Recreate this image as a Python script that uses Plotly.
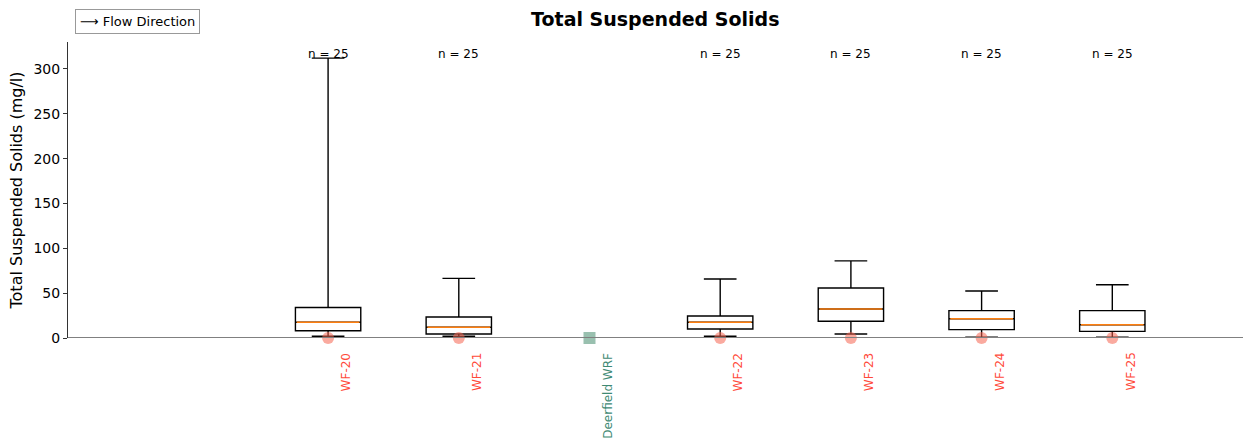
import plotly.graph_objects as go

# Sites in downstream order (numeric slot on the x axis)
sites = ["WF-20", "WF-21", "Deerfield WRF", "WF-22", "WF-23", "WF-24", "WF-25"]
site_pos = [2, 3, 4, 5, 6, 7, 8]
site_kind = ["stream", "stream", "plant", "stream", "stream", "stream", "stream"]

# Box statistics (mg/l) for the sampled stream sites
box_sites = ["WF-20", "WF-21", "WF-22", "WF-23", "WF-24", "WF-25"]
box_pos = [2, 3, 5, 6, 7, 8]
lower_fence = [2.0, 2.0, 2.0, 4.5, 1.0, 1.0]
q1 = [8.0, 4.5, 10.0, 18.6, 9.3, 7.4]
median = [17.5, 12.0, 17.5, 32.3, 21.5, 14.8]
q3 = [34.0, 23.4, 24.5, 55.7, 30.5, 30.5]
upper_fence = [312.0, 66.5, 65.7, 86.0, 52.4, 59.4]
n_samples = [25, 25, 25, 25, 25, 25]

Y_MAX = 330
BOX_W = 0.5
FONT = "DejaVu Sans"
RED = "#ff4a3a"
TEAL = "#3f8a74"

fig = go.Figure()

# Zero reference line
fig.add_shape(type="line", xref="paper", yref="y", x0=0, x1=1, y0=0, y1=0,
              line=dict(color="#808080", width=2), layer="above")

# Site markers on the zero line
for name, pos, kind in zip(sites, site_pos, site_kind):
    if kind == "stream":
        mk = dict(symbol="circle", size=12, color="rgba(245,100,80,0.55)", line=dict(width=0))
    else:
        mk = dict(symbol="square", size=12, color="rgba(70,140,110,0.55)", line=dict(width=0))
    fig.add_trace(go.Scatter(x=[pos], y=[0], mode="markers", marker=mk,
                             cliponaxis=False, showlegend=False, hoverinfo="skip"))

# Box plots
fig.add_trace(go.Box(
    x=box_pos, q1=q1, median=median, q3=q3,
    lowerfence=lower_fence, upperfence=upper_fence,
    width=BOX_W, whiskerwidth=0.5,
    fillcolor="white", line=dict(color="black", width=1.4),
    boxpoints=False, showlegend=False, hoverinfo="skip",
))

# Orange median lines drawn over the boxes
mx, my = [], []
for p, m in zip(box_pos, median):
    mx += [p - BOX_W / 2 + 0.01, p + BOX_W / 2 - 0.01, None]
    my += [m, m, None]
fig.add_trace(go.Scatter(x=mx, y=my, mode="lines",
                         line=dict(color="#ff7f0e", width=1.4),
                         showlegend=False, hoverinfo="skip"))

# Sample counts above each box
for p, n in zip(box_pos, n_samples):
    fig.add_annotation(x=p, y=316.5, text=f"n = {n}", showarrow=False,
                       font=dict(family=FONT, size=12, color="black"),
                       xanchor="center", yanchor="middle")

# Rotated site labels under the axis
for name, pos, kind in zip(sites, site_pos, site_kind):
    fig.add_annotation(x=pos + 0.14, y=0, yref="y", yshift=-13, text=name,
                       textangle=-90, showarrow=False,
                       font=dict(family=FONT, size=12, color=RED if kind == "stream" else TEAL),
                       xanchor="center", yanchor="top")

# Flow direction key
fig.add_annotation(xref="paper", yref="paper", x=0.006, y=1.0, yshift=33,
                   text="⟶ Flow Direction", showarrow=False,
                   font=dict(family=FONT, size=13, color="black"),
                   xanchor="left", yanchor="top",
                   bordercolor="#999999", borderwidth=1, borderpad=4, bgcolor="white")

fig.update_layout(
    width=1247, height=442,
    margin=dict(l=68, r=4, t=42, b=104),
    paper_bgcolor="white", plot_bgcolor="white",
    title=dict(text="<b>Total Suspended Solids</b>", x=0.5255, xanchor="center",
               y=0.957, yanchor="middle",
               font=dict(family=FONT, size=19, color="black")),
    font=dict(family=FONT, color="black"),
    showlegend=False,
)
fig.update_xaxes(range=[0.01, 9.0], showticklabels=False, ticks="",
                 showgrid=False, zeroline=False, showline=False)
fig.update_yaxes(range=[0, Y_MAX], tickvals=[0, 50, 100, 150, 200, 250, 300],
                 ticks="outside", ticklen=4, tickcolor="#333333",
                 showline=True, linecolor="#333333", linewidth=1,
                 showgrid=False, zeroline=False,
                 tickfont=dict(family=FONT, size=14, color="black"),
                 title=dict(text="Total Suspended Solids (mg/l)", standoff=6,
                            font=dict(family=FONT, size=16, color="black")))

fig.write_html("out.html")
